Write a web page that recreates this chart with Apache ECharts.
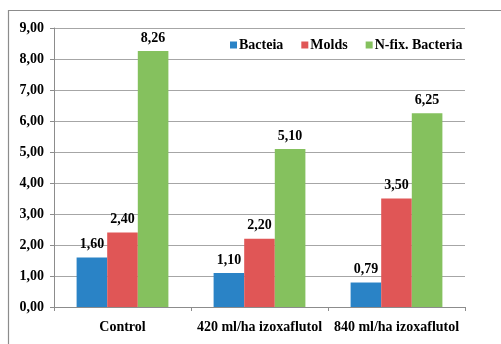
<!DOCTYPE html>
<html><head><meta charset="utf-8">
<script src="https://cdn.jsdelivr.net/npm/echarts@6/dist/echarts.min.js"></script>
<style>html,body{margin:0;padding:0;background:#fff}#c{width:501px;height:344px}</style>
</head><body><div id="c"></div>
<script>
const categories = ['Control', '420 ml/ha izoxaflutol', '840 ml/ha izoxaflutol'];
const bacteia = [1.60, 1.10, 0.79];
const molds = [2.40, 2.20, 3.50];
const nfix = [8.26, 5.10, 6.25];
const seriesNames = ['Bacteia', 'Molds', 'N-fix. Bacteria'];
const colors = ['#2A83C6', '#E05656', '#85C15E'];

const fmt = v => v.toFixed(2).replace('.', ',');
const FONT = '"Liberation Serif", "Times New Roman", serif';
const chart = echarts.init(document.getElementById('c'), null, {renderer: 'canvas'});
const mk = (name, data, color) => ({
  name, type: 'bar', data, barGap: '0%', barCategoryGap: '33%',
  itemStyle: {color},
  label: {show: true, position: 'top', distance: 6, formatter: p => fmt(p.value),
    fontFamily: FONT, fontWeight: 'bold', fontSize: 14, color: '#000'}
});
chart.setOption({
  animation: false,
  graphic: [{type: 'rect', shape: {x: 8.5, y: 10.5, width: 600, height: 400},
    style: {fill: 'none', stroke: '#8c8c8c', lineWidth: 1.2}, z: 0}],
  legend: {
    data: seriesNames, left: 225, top: 33, itemWidth: 7, itemHeight: 7, itemGap: 18,
    icon: 'rect',
    textStyle: {fontFamily: FONT, fontWeight: 'bold', fontSize: 14, color: '#000', padding: [0,0,0,-3]}
  },
  grid: {left: 54, right: 36, top: 28, bottom: 37, containLabel: false},
  xAxis: {
    type: 'category', data: categories,
    axisLine: {lineStyle: {color: '#8c8c8c'}},
    axisTick: {show: true, length: 4, lineStyle: {color: '#8c8c8c'}},
    axisLabel: {interval: 0, fontFamily: FONT, fontWeight: 'bold', fontSize: 14, color: '#000', margin: 13}
  },
  yAxis: {
    type: 'value', min: 0, max: 9, interval: 1,
    axisLine: {show: true, lineStyle: {color: '#8c8c8c'}},
    axisTick: {show: true, length: 4, lineStyle: {color: '#8c8c8c'}},
    splitLine: {lineStyle: {color: '#a6a6a6'}},
    axisLabel: {formatter: fmt, fontFamily: FONT, fontWeight: 'bold', fontSize: 14, color: '#000', margin: 10}
  },
  series: [mk(seriesNames[0], bacteia, colors[0]), mk(seriesNames[1], molds, colors[1]), mk(seriesNames[2], nfix, colors[2])]
});
</script></body></html>
